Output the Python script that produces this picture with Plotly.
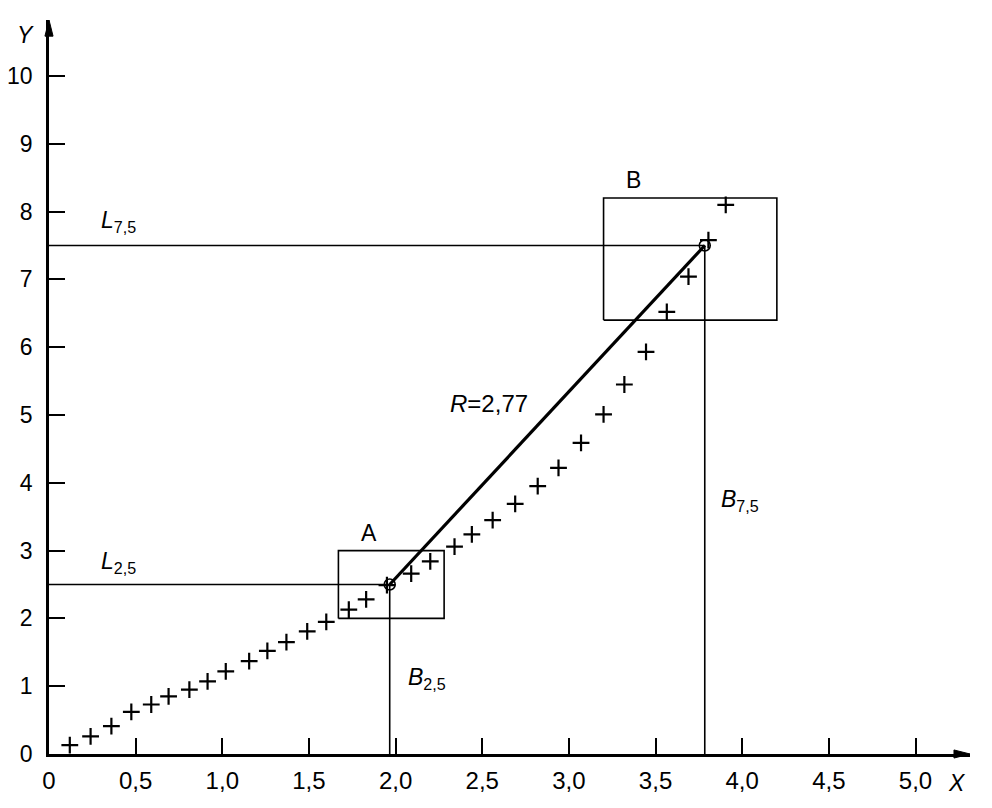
import plotly.graph_objects as go

# ---- data ----
x_pts = [0.12, 0.24, 0.36, 0.475, 0.59, 0.69, 0.81, 0.915, 1.02, 1.155,
         1.26, 1.37, 1.49, 1.60, 1.73, 1.83, 1.95, 2.09, 2.20, 2.34,
         2.44, 2.56, 2.69, 2.82, 2.94, 3.07, 3.20, 3.32, 3.445, 3.565,
         3.69, 3.805, 3.905]
y_pts = [0.13, 0.26, 0.41, 0.62, 0.73, 0.85, 0.95, 1.07, 1.22, 1.37,
         1.52, 1.65, 1.81, 1.95, 2.13, 2.28, 2.49, 2.66, 2.84, 3.06,
         3.24, 3.45, 3.69, 3.95, 4.22, 4.59, 5.01, 5.45, 5.93, 6.52,
         7.04, 7.58, 8.10]

key_x = [1.966, 3.784]   # points on curve at Y = 2.5 and Y = 7.5
key_y = [2.5, 7.5]

box_a_x = [1.67, 2.28]
box_a_y = [2.0, 3.0]
box_b_x = [3.2, 4.2]
box_b_y = [6.4, 8.2]

x_tickvals = [0, 0.5, 1.0, 1.5, 2.0, 2.5, 3.0, 3.5, 4.0, 4.5, 5.0]
x_ticktext = ["0", "0,5", "1,0", "1,5", "2,0", "2,5", "3,0", "3,5", "4,0", "4,5", "5,0"]
y_tickvals = [0, 1, 2, 3, 4, 5, 6, 7, 8, 9, 10]
y_ticktext = ["0", "1", "2", "3", "4", "5", "6", "7", "8", "9", "10"]

FONT = "Liberation Sans, Arial, sans-serif"
BLACK = "#000000"

fig = go.Figure()

# reference lines L (horizontal) and B (vertical)
for kx, ky in zip(key_x, key_y):
    fig.add_trace(go.Scatter(x=[0, kx], y=[ky, ky], mode="lines",
                             line=dict(color=BLACK, width=1.6), hoverinfo="skip"))
    fig.add_trace(go.Scatter(x=[kx, kx], y=[0, ky], mode="lines",
                             line=dict(color=BLACK, width=1.6), hoverinfo="skip"))

# boxes A and B
for bx, by in [(box_a_x, box_a_y), (box_b_x, box_b_y)]:
    fig.add_trace(go.Scatter(x=[bx[0], bx[1], bx[1], bx[0], bx[0]],
                             y=[by[0], by[0], by[1], by[1], by[0]],
                             mode="lines", line=dict(color=BLACK, width=1.6),
                             hoverinfo="skip"))

# thick chord A-B
fig.add_trace(go.Scatter(x=key_x, y=key_y, mode="lines",
                         line=dict(color=BLACK, width=3.2), hoverinfo="skip"))

# measurement points
fig.add_trace(go.Scatter(x=x_pts, y=y_pts, mode="markers",
                         marker=dict(symbol="cross-thin", size=12,
                                     line=dict(color=BLACK, width=2.2)),
                         cliponaxis=False))

# circles at key points
fig.add_trace(go.Scatter(x=key_x, y=key_y, mode="markers",
                         marker=dict(symbol="circle-open", size=11, color=BLACK,
                                     line=dict(color=BLACK, width=1.5))))

def label(x, y, text, size=23):
    fig.add_annotation(x=x, y=y, text=text, showarrow=False,
                       font=dict(family=FONT, size=size, color=BLACK),
                       xanchor="center", yanchor="middle")

label(0.40, 7.86, "<i>L</i><sub>7,5</sub>")
label(0.40, 2.83, "<i>L</i><sub>2,5</sub>")
label(2.18, 1.11, "<i>B</i><sub>2,5</sub>")
label(3.99, 3.74, "<i>B</i><sub>7,5</sub>")
label(2.54, 5.17, "<i>R</i>=2,77", size=24)
label(1.847, 3.26, "A")
label(3.37, 8.47, "B")

# axis titles
fig.add_annotation(xref="paper", yref="paper", x=-0.025, y=0.98, text="<i>Y</i>",
                   showarrow=False, font=dict(family=FONT, size=23, color=BLACK),
                   xanchor="center", yanchor="middle")
fig.add_annotation(xref="paper", yref="paper", x=0.986, y=-0.0395, text="<i>X</i>",
                   showarrow=False, font=dict(family=FONT, size=23, color=BLACK),
                   xanchor="center", yanchor="middle")

# arrowheads on axes (paper coords)
fig.add_shape(type="path", xref="paper", yref="paper",
              path="M 1 0 L 0.9826 0.0055 L 0.9826 -0.0055 Z",
              fillcolor=BLACK, line=dict(color=BLACK, width=1))
fig.add_shape(type="path", xref="paper", yref="paper",
              path="M 0 1 L 0.0044 0.978 L -0.0044 0.978 Z",
              fillcolor=BLACK, line=dict(color=BLACK, width=1))

fig.update_layout(
    width=984, height=800,
    margin=dict(l=41, r=22, t=12, b=54, autoexpand=False),
    paper_bgcolor="white", plot_bgcolor="white",
    showlegend=False,
    font=dict(family=FONT, size=24, color=BLACK),
)
fig.update_xaxes(range=[0, 921 / 173.3], showgrid=False, zeroline=False,
                 showline=True, linecolor=BLACK, linewidth=2.5,
                 ticks="inside", ticklen=16, tickwidth=2, tickcolor=BLACK,
                 tickvals=x_tickvals, ticktext=x_ticktext,
                 ticklabelstandoff=3,
                 tickfont=dict(family=FONT, size=24, color=BLACK))
fig.update_yaxes(range=[0, 734 / 67.8], showgrid=False, zeroline=False,
                 showline=True, linecolor=BLACK, linewidth=2.5,
                 ticks="inside", ticklen=16, tickwidth=2, tickcolor=BLACK,
                 tickvals=y_tickvals, ticktext=y_ticktext,
                 ticklabelstandoff=9,
                 tickfont=dict(family=FONT, size=23, color=BLACK))

fig.write_html("out.html")
